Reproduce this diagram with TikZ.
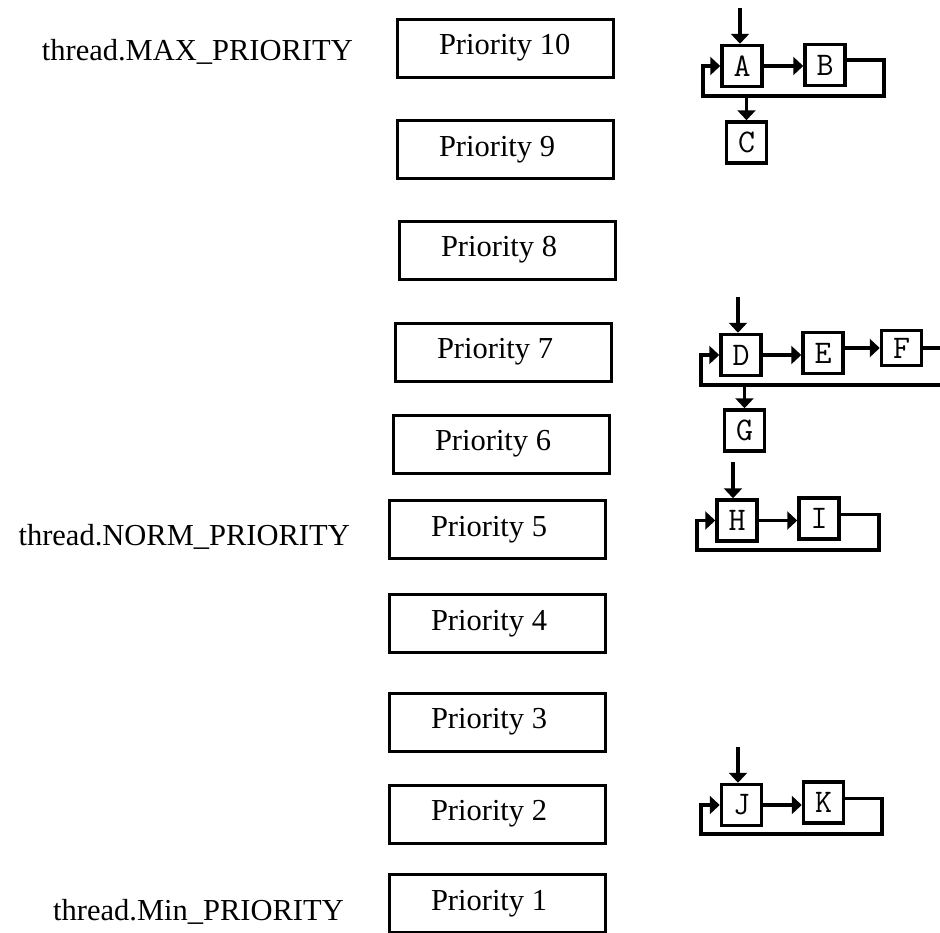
\documentclass[tikz,border=0pt]{standalone}
\usepackage{fontspec}
\setmainfont{Liberation Serif}
\usetikzlibrary{positioning, arrows.meta, calc}

\begin{document}
\begin{tikzpicture}[
    x=1pt, y=-1pt,
    every node/.style={font=\fontsize{30.5}{34}\selectfont},
    prio/.style={draw, line width=3pt, anchor=west, minimum width=216pt, minimum height=58pt, inner sep=0pt},
    lvl/.style={anchor=base east, inner sep=0pt},
    cell/.style={draw, line width=3.5pt, minimum width=40pt, minimum height=41pt, inner sep=0pt, font=\ttfamily\fontsize{33}{34}\selectfont},
    link/.style={line width=3.5pt, -{Triangle[width=18pt, length=10pt]}},
  ]
  \useasboundingbox (0,0) rectangle (940,932);
  \clip (0,0) rectangle (940,932);

  \node[lvl] (maxl) at (353,60) {thread.MAX\_PRIORITY};
  \node[lvl] (norml) at (350,545) {thread.NORM\_PRIORITY};
  \node[lvl] (minl) at (344,920) {thread.Min\_PRIORITY};

  \foreach \n/\x/\y in {10/395.5/48, 9/395.5/149.5, 8/397.5/250, 7/393.5/352, 6/391.5/444,
                        5/387.5/529.5, 4/387.5/623.5, 3/387.5/722, 2/387.5/814, 1/387.5/903.5}
    \node[prio] (p\n) at (\x,\y) {\makebox[132pt][l]{Priority \n}};

  % queue at priority 10
  \node[cell] (A) at (742,66) {A};
  \node[cell] (B) at (825,65) {B};
  \node[cell] (C) at (746.5,142.5) {C};
  \coordinate (topA) at (740,8);
  \coordinate (abR) at (884,96);
  \coordinate (abL) at (703,96);
  \draw[link] (topA) -- (topA |- A.north);
  \draw[link] (A.east) -- (A.east -| B.west);
  \draw[link] ([yshift=5pt]B.east) -| (abR) -- (abL) |- (A.west);
  \draw[link] (C.north |- abL) -- (C.north);

  % queue at priority 7
  \node[cell] (D) at (741,355) {D};
  \node[cell] (E) at (823,353) {E};
  \node[cell, minimum height=35pt] (F) at (901.5,348) {F};
  \node[cell] (G) at (744.5,430.5) {G};
  \coordinate (topD) at (738,297);
  \coordinate (deR) at (960,385);
  \coordinate (deL) at (701,385);
  \draw[link] (topD) -- (topD |- D.north);
  \draw[link] (D.east) -- (D.east -| E.west);
  \draw[link] (F.west -| E.east) -- (F.west);
  \draw[link] (F.east) -| (deR) -- (deL) |- (D.west);
  \draw[link] (G.north |- deL) -- (G.north);

  % queue at priority 5
  \node[cell] (H) at (737,520.5) {H};
  \node[cell] (I) at (819,518.5) {I};
  \coordinate (topH) at (733,462);
  \coordinate (hiR) at (879,550);
  \coordinate (hiL) at (697,550);
  \draw[link] (topH) -- (topH |- H.north);
  \draw[link] (H.east) -- (H.east -| I.west);
  \draw[link] ([yshift=4pt]I.east) -| (hiR) -- (hiL) |- (H.west);

  % queue at priority 2
  \node[cell] (J) at (741.5,805) {J};
  \node[cell] (K) at (823.5,802.5) {K};
  \coordinate (topJ) at (738,747);
  \coordinate (jkR) at (882,834);
  \coordinate (jkL) at (701,834);
  \draw[link] (topJ) -- (topJ |- J.north);
  \draw[link] (J.east) -- (J.east -| K.west);
  \draw[link] ([yshift=4pt]K.east) -| (jkR) -- (jkL) |- (J.west);
\end{tikzpicture}
\end{document}
